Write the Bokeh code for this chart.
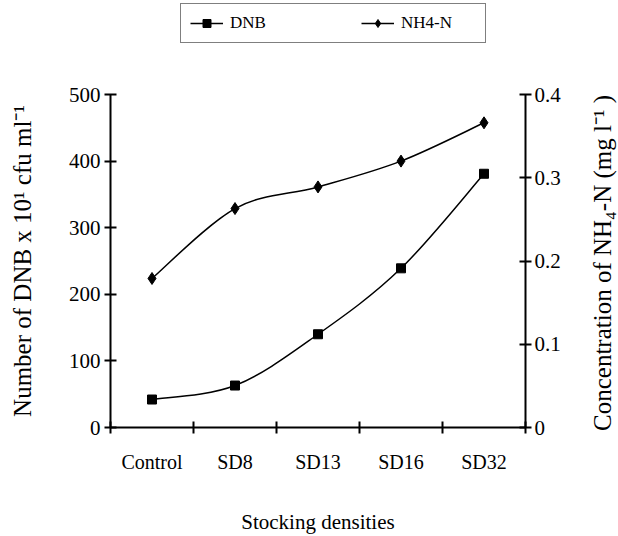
from bokeh.plotting import figure
from bokeh.layouts import column, row
from bokeh.models import (Range1d, LinearAxis, FixedTicker, Legend, LegendItem,
                          ColumnDataSource)
from bokeh.embed import file_html
from bokeh.resources import INLINE

# ---- data ----
categories = ["Control", "SD8", "SD13", "SD16", "SD32"]
dnb = [42, 63, 140, 239, 381]          # Number of DNB x 10^1 cfu/ml
nh4 = [0.179, 0.263, 0.289, 0.320, 0.366]  # NH4-N mg/l
left_ticks = [0, 100, 200, 300, 400, 500]
right_ticks = [0, 0.1, 0.2, 0.3, 0.4]

FONT = "Liberation Serif"
xs = [i + 0.5 for i in range(len(categories))]


def smooth_segments(x, y):
    """Cubic Bezier control points (Catmull-Rom style) through the data points."""
    n = len(x)
    out = dict(x0=[], y0=[], x1=[], y1=[], cx0=[], cy0=[], cx1=[], cy1=[])
    for i in range(n - 1):
        p0 = (x[max(i - 1, 0)], y[max(i - 1, 0)])
        p1 = (x[i], y[i])
        p2 = (x[i + 1], y[i + 1])
        p3 = (x[min(i + 2, n - 1)], y[min(i + 2, n - 1)])
        out["x0"].append(p1[0]); out["y0"].append(p1[1])
        out["x1"].append(p2[0]); out["y1"].append(p2[1])
        out["cx0"].append(p1[0] + (p2[0] - p0[0]) / 6)
        out["cy0"].append(p1[1] + (p2[1] - p0[1]) / 6)
        out["cx1"].append(p2[0] - (p3[0] - p1[0]) / 6)
        out["cy1"].append(p2[1] - (p3[1] - p1[1]) / 6)
    return out


src_dnb_curve = ColumnDataSource(smooth_segments(xs, dnb))
src_nh4_curve = ColumnDataSource(smooth_segments(xs, nh4))
src_pts = ColumnDataSource(dict(x=xs, dnb=dnb, nh4=nh4))

bez_kw = dict(x0="x0", y0="y0", x1="x1", y1="y1", cx0="cx0", cy0="cy0",
              cx1="cx1", cy1="cy1", line_color="black", line_width=1.5)

RW = 40   # width of the strip holding the right-hand axis title
LH = 80   # height of the legend strip
TOP = 14  # top border of the main plot

p = figure(width=618 - RW, height=536 - LH, output_backend="svg", toolbar_location=None,
           x_range=Range1d(0, len(categories)), y_range=Range1d(0, 500),
           min_border_left=110, min_border_right=618 - RW - 525,
           min_border_bottom=105, min_border_top=TOP)
p.extra_y_ranges = {"nh4": Range1d(0, 0.4)}
p.xgrid.visible = False
p.ygrid.visible = False
p.outline_line_color = None
p.background_fill_color = "white"
p.border_fill_color = "white"

# curves and markers
p.bezier(source=src_dnb_curve, **bez_kw)
p.bezier(source=src_nh4_curve, y_range_name="nh4", **bez_kw)
p.scatter("x", "dnb", source=src_pts, marker="square", size=9, color="black")
p.scatter("x", "nh4", source=src_pts, marker="diamond", size=12, color="black",
          y_range_name="nh4")

# axes
for ax in p.xaxis + p.yaxis:
    ax.axis_line_width = 2
    ax.major_tick_line_width = 2
    ax.minor_tick_line_width = 2
    ax.major_label_text_font = FONT
    ax.major_label_text_color = "black"
    ax.axis_label_text_font = FONT
    ax.axis_label_text_font_style = "normal"
    ax.axis_label_text_color = "black"

xa = p.xaxis[0]
xa.ticker = FixedTicker(ticks=xs, minor_ticks=list(range(len(categories) + 1)))
xa.major_label_overrides = {x: c for x, c in zip(xs, categories)}
xa.major_label_text_font_size = "20px"
xa.major_tick_in = 0
xa.major_tick_out = 0
xa.minor_tick_in = 6
xa.minor_tick_out = 6
xa.major_label_standoff = 17
xa.axis_label = "Stocking densities"
xa.axis_label_text_font_size = "21px"
xa.axis_label_standoff = 34

ya = p.yaxis[0]
ya.ticker = FixedTicker(ticks=left_ticks, minor_ticks=[])
ya.major_label_text_font_size = "21px"
ya.major_tick_in = 6
ya.major_tick_out = 6
ya.minor_tick_in = 0
ya.minor_tick_out = 0
ya.major_label_standoff = 4
ya.axis_label = "Number of DNB x 10\u00b9 cfu ml\u207b\u00b9"
ya.axis_label_text_font_size = "25px"
ya.axis_label_standoff = 30

ra = LinearAxis(y_range_name="nh4", ticker=FixedTicker(ticks=right_ticks, minor_ticks=[]))
ra.axis_line_width = 2
ra.major_tick_line_width = 2
ra.major_tick_in = 6
ra.major_tick_out = 6
ra.minor_tick_in = 0
ra.minor_tick_out = 0
ra.major_label_standoff = 3
ra.major_label_text_font = FONT
ra.major_label_text_font_size = "21px"
ra.major_label_text_color = "black"
ra.major_label_overrides = {0: "0"}
p.add_layout(ra, "right")

# ---- strip with the right-hand axis title (reads bottom to top) ----
rt = figure(width=RW, height=536, output_backend="svg", toolbar_location=None,
            x_range=Range1d(0, 1), y_range=Range1d(0, 0.4),
            x_axis_type=None, min_border_left=RW - 1, min_border_right=0,
            min_border_top=LH + TOP, min_border_bottom=105)
rt.xgrid.visible = False
rt.ygrid.visible = False
rt.outline_line_color = None
rt.border_fill_color = "white"
rax = rt.yaxis[0]
rax.ticker = FixedTicker(ticks=[], minor_ticks=[])
rax.axis_line_color = None
rax.major_tick_in = 0
rax.major_tick_out = 0
rax.minor_tick_in = 0
rax.minor_tick_out = 0
rax.axis_label = "Concentration of NH\u2084-N (mg l\u207b\u00b9 )"
rax.axis_label_text_font = FONT
rax.axis_label_text_font_size = "25px"
rax.axis_label_text_font_style = "normal"
rax.axis_label_text_color = "black"
rax.axis_label_standoff = 2

# ---- legend strip on top ----
lg = figure(width=618 - RW, height=LH, output_backend="svg", toolbar_location=None,
            x_range=Range1d(0, len(categories)), y_range=Range1d(0, 500),
            x_axis_type=None, y_axis_type=None, min_border=0)
lg.extra_y_ranges = {"nh4": Range1d(0, 0.4)}
lg.xgrid.visible = False
lg.ygrid.visible = False
lg.outline_line_color = None
lg.border_fill_color = "white"
lb1 = lg.bezier(source=src_dnb_curve, visible=False, **bez_kw)
lb2 = lg.bezier(source=src_nh4_curve, visible=False, y_range_name="nh4", **bez_kw)
ls1 = lg.scatter("x", "dnb", source=src_pts, marker="square", size=9,
                 color="black", visible=False)
ls2 = lg.scatter("x", "nh4", source=src_pts, marker="diamond", size=12,
                 color="black", y_range_name="nh4", visible=False)

legend = Legend(items=[LegendItem(label="DNB", renderers=[lb1, ls1]),
                       LegendItem(label="NH4-N", renderers=[lb2, ls2])],
                orientation="horizontal", location=(70, LH - 43),
                label_text_font=FONT, label_text_font_size="17px",
                label_text_color="black",
                border_line_color="black", border_line_width=1.5,
                padding=9, spacing=56, label_standoff=7, glyph_width=33,
                label_width=75, margin=0, background_fill_alpha=1,
                click_policy="none")
lg.add_layout(legend, "center")

layout = row(column(lg, p, spacing=0), rt, spacing=0)
open("out.html", "w").write(file_html(layout, INLINE))
